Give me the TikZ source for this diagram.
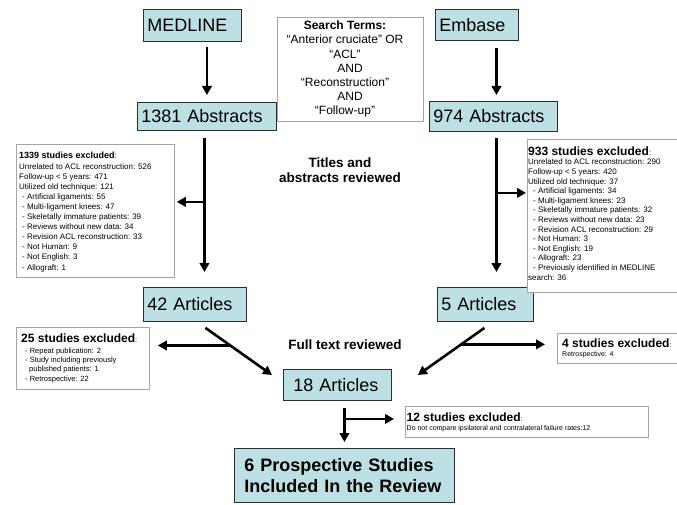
\documentclass[tikz,border=0pt]{standalone}
\usepackage{fontspec}
\setmainfont{Liberation Sans}
\usetikzlibrary{arrows.meta,calc}
\definecolor{boxblue}{RGB}{189,224,228}
\definecolor{boxline}{RGB}{45,45,45}
\definecolor{exline}{RGB}{165,165,165}
\newcommand{\fsz}[2]{\fontsize{#1}{#2}\selectfont}
\begin{document}
\begin{tikzpicture}[x=1pt,y=-1pt,
  bluebox/.style={draw=boxline, line width=0.9pt, fill=boxblue, anchor=north west,
    inner xsep=4pt, inner ysep=0pt, align=left, font=\fsz{18}{21}},
  exbox/.style={draw=exline, line width=0.8pt, fill=white, anchor=north west, inner sep=0pt},
  extext/.style={anchor=base west, inner sep=0pt, align=left},
  arr/.style={line width=2.6pt, -{Triangle[length=9pt,width=9.5pt]}}]
\clip (0,0) rectangle (677,505);
\fill[white] (0,0) rectangle (677,505);

% main boxes
\node[bluebox, text width=90pt, minimum height=32pt] (med) at (143,9) {MEDLINE};
\node[bluebox, text width=75pt, minimum height=31pt] (emb) at (435,9) {Embase};
\node[bluebox, text width=131pt, minimum height=28pt] (a1381) at (137,102) {1381 Abstracts};
\node[bluebox, text width=120pt, minimum height=30pt] (a974) at (429,101) {974 Abstracts};
\node[bluebox, text width=95pt, minimum height=34pt] (a42) at (143,287) {42 Articles};
\node[bluebox, text width=88pt, minimum height=34pt] (a5) at (437,287) {5 Articles};
\node[bluebox, inner xsep=10pt, text width=88pt, minimum height=31pt] (a18) at (283,369) {18 Articles};
\node[bluebox, font=\bfseries\fsz{18}{21}, inner xsep=10pt, inner ysep=10pt, text width=200pt]
  (fin) at (234,448) {6 Prospective Studies\\Included In the Review};

% search terms (base anchor = last line)
\node[exbox, minimum width=146pt, minimum height=104pt] (st) at (277,17) {};
\node[anchor=base, inner sep=0pt, align=center, font=\fsz{12}{14.1}] (stt) at (345,114.5)
  {\textbf{Search Terms:}\\“Anterior cruciate” OR\\“ACL”\hspace*{38pt}\\\hspace*{10pt}AND\\“Reconstruction”\\\hspace*{10pt}AND\\“Follow-up”};

% exclusion boxes (text anchored at baseline of last line)
\node[exbox, minimum width=158pt, minimum height=133pt] (ex1) at (16,144) {};
\node[extext, font=\fsz{8}{10.1}] (ex1t) at (19,270)
  {{\bfseries\fsz{9}{10}1339 studies excluded}:\\
   Unrelated to ACL reconstruction: 526\\
   Follow-up < 5 years: 471\\
   Utilized old technique: 121\\
   \hspace*{3pt}- Artificial ligaments: 55\\
   \hspace*{3pt}- Multi-ligament knees: 47\\
   \hspace*{3pt}- Skeletally immature patients: 39\\
   \hspace*{3pt}- Reviews without new data: 34\\
   \hspace*{3pt}- Revision ACL reconstruction: 33\\
   \hspace*{3pt}- Not Human: 9\\
   \hspace*{3pt}- Not English: 3\\
   \hspace*{3pt}- Allograft: 1};

\node[exbox, minimum width=170pt, minimum height=153pt] (ex2) at (527,139) {};
\node[extext, font=\fsz{8}{9.6}] (ex2t) at (528,280)
  {{\bfseries\fsz{12}{10}933 studies excluded}:\\
   Unrelated to ACL reconstruction: 290\\
   Follow-up < 5 years: 420\\
   Utilized old technique: 37\\
   \hspace*{5pt}- Artificial ligaments: 34\\
   \hspace*{5pt}- Multi-ligament knees: 23\\
   \hspace*{5pt}- Skeletally immature patients: 32\\
   \hspace*{5pt}- Reviews without new data: 23\\
   \hspace*{5pt}- Revision ACL reconstruction: 29\\
   \hspace*{5pt}- Not Human: 3\\
   \hspace*{5pt}- Not English: 19\\
   \hspace*{5pt}- Allograft: 23\\
   \hspace*{5pt}- Previously identified in MEDLINE\\
   search: 36};

\node[exbox, minimum width=133pt, minimum height=62pt] (ex3) at (16,327) {};
\node[extext, font=\fsz{7.5}{9.3}] (ex3t) at (21,381)
  {{\bfseries\fsz{12}{10}25 studies excluded}:\\[1.7pt]
   \hspace*{4pt}- Repeat publication: 2\\
   \hspace*{4pt}- Study including previously\\
   \hspace*{8pt}published patients: 1\\
   \hspace*{4pt}- Retrospective: 22};

\node[exbox, minimum width=130pt, minimum height=30pt] (ex4) at (557,333) {};
\node[extext, font=\fsz{7}{9}] (ex4t) at (562,356)
  {{\bfseries\fsz{12}{10}4 studies excluded}:\\Retrospective: 4};

\node[exbox, minimum width=243pt, minimum height=31pt] (ex5) at (405,406) {};
\node[extext, font=\fsz{7}{9}] (ex5t) at (406.5,430)
  {{\bfseries\fsz{12}{10}12 studies excluded}:\\Do not compare ipsilateral and contralateral failure rates:12};

% stage labels
\node[font=\bfseries\fsz{13.5}{15.5}, align=center, inner sep=0pt] (tar) at (340,170)
  {Titles and\\abstracts reviewed};
\node[font=\bfseries\fsz{13.5}{16}, inner sep=0pt] (ftr) at (345,345) {Full text reviewed};

% arrows
\draw[arr] ($(a1381.north |- med.south)+(0,5)$) -- ($(a1381.north)+(0,-7)$);
\draw[arr] ($(a974.north |- emb.south)+(3,7)$) -- ($(a974.north)+(3,-6)$);

\draw[arr] ($(a1381.south)+(-2.5,7)$) -- ($(a1381.south |- a42.north)+(-2.5,-15)$);
\coordinate (j1) at ($(a1381.south)+(-2.5,71)$);
\draw[arr] (j1) -- ($(ex1.east |- j1)+(2,0)$);

\draw[arr] ($(a974.south)+(3,6)$) -- ($(a974.south |- a5.north)+(3,-15)$);
\coordinate (j2) at ($(a974.south)+(3,61)$);
\draw[arr] (j2) -- ($(ex2.west |- j2)+(-1,0)$);

\coordinate (s3) at ($(a42.south)+(10.5,6)$);
\coordinate (e3) at ($(a18.north west)+(-11,6)$);
\draw[arr] (s3) -- (e3);
\coordinate (j3) at ($(s3)!0.373!(e3)$);
\draw[arr] (j3) -- ($(ex3.east |- j3)+(8,0)$);

\coordinate (s4) at ($(a5.south)+(-1,6)$);
\coordinate (e4) at ($(a18.north east)+(26,6)$);
\draw[arr] (s4) -- (e4);
\coordinate (j4) at ($(s4)!0.35!(e4)$);
\draw[arr] (j4) -- ($(ex4.west |- j4)+(-12,0)$);

\draw[arr] ($(fin.north |- a18.south)+(0,7)$) -- ($(fin.north)+(0,-6)$);
\coordinate (j5) at ($(fin.north |- a18.south)+(0,18)$);
\draw[arr] (j5) -- ($(ex5.west |- j5)+(-11,0)$);
\end{tikzpicture}
\end{document}
